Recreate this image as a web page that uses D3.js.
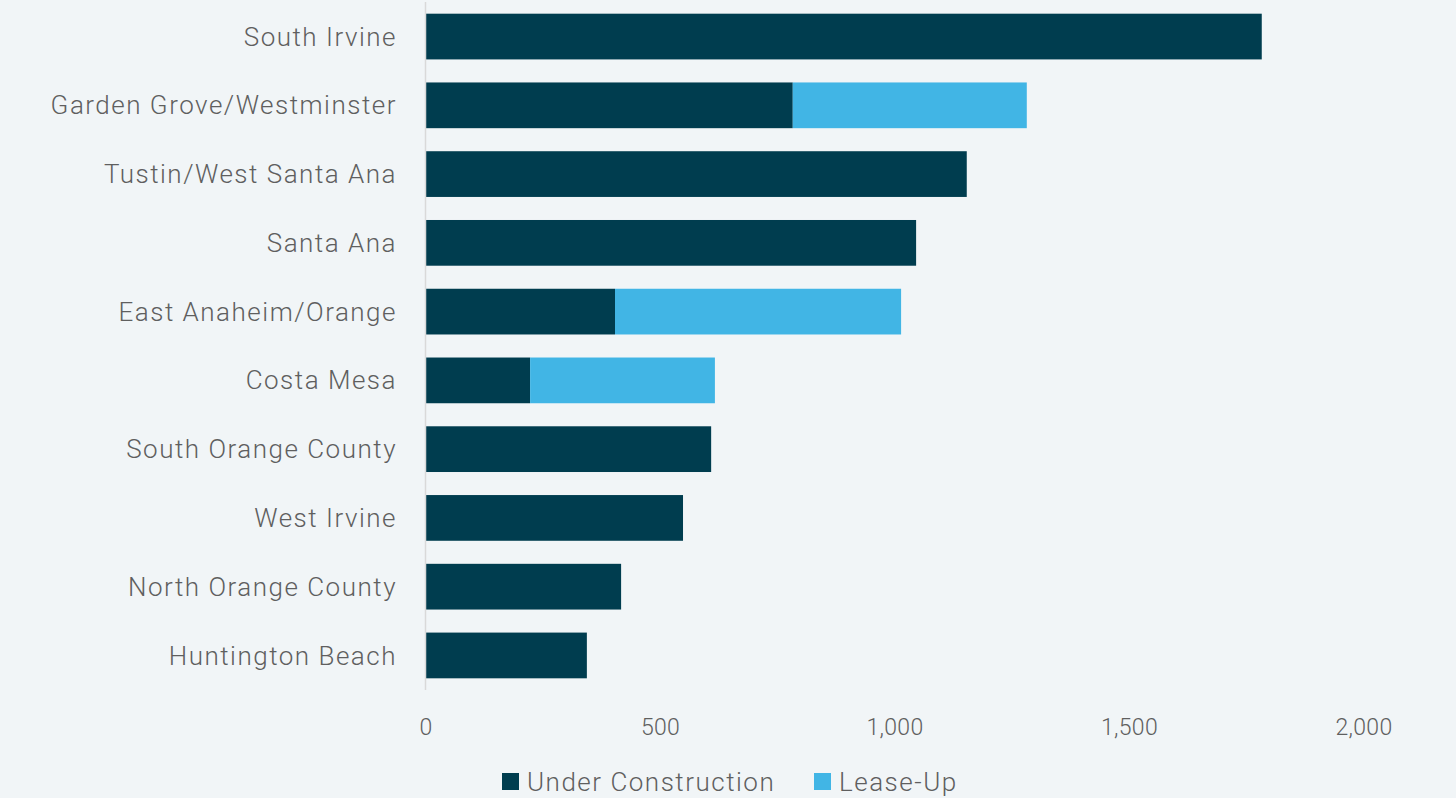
<!DOCTYPE html>
<html>
<head>
<meta charset="utf-8">
<script src="https://cdn.jsdelivr.net/npm/d3@7"></script>
<style>
  html, body { margin: 0; padding: 0; background: #f1f5f7; }
  svg { display: block; font-family: Roboto, "Noto Sans", sans-serif; font-weight: 300; }
</style>
</head>
<body>
<div id="chart"></div>
<script>
// Submarkets, top to bottom
const categories = [
  'South Irvine', 'Garden Grove/Westminster', 'Tustin/West Santa Ana', 'Santa Ana',
  'East Anaheim/Orange', 'Costa Mesa', 'South Orange County', 'West Irvine',
  'North Orange County', 'Huntington Beach'
];
const underConstruction = [1782, 782, 1153, 1045, 403, 222, 608, 548, 416, 343];
const leaseUp = [0, 499, 0, 0, 610, 394, 0, 0, 0, 0];
const seriesNames = ['Under Construction', 'Lease-Up'];
const seriesColors = ['#003d4f', '#41b5e5'];
const xTicks = [0, 500, 1000, 1500, 2000];

const width = 1456, height = 798;
const margin = { top: 2, right: 92, bottom: 108, left: 426 };

const svg = d3.select('#chart').append('svg')
  .attr('width', width)
  .attr('height', height);

svg.append('rect').attr('width', width).attr('height', height).attr('fill', '#f1f5f7');

const x = d3.scaleLinear().domain([0, 2000]).range([margin.left, width - margin.right]);
const y = d3.scaleBand().domain(categories)
  .range([margin.top, height - margin.bottom])
  .paddingInner(0.335).paddingOuter(0.17);

const rows = categories.map((c, i) => ({ cat: c, uc: underConstruction[i], lu: leaseUp[i] }));
const stacked = d3.stack().keys(['uc', 'lu'])(rows);

// bars
const layers = svg.append('g').selectAll('g')
  .data(stacked)
  .join('g')
  .attr('fill', (d, i) => seriesColors[i]);

layers.selectAll('rect')
  .data(d => d.filter(p => p[1] - p[0] > 0))
  .join('rect')
  .attr('x', d => x(d[0]))
  .attr('y', d => y(d.data.cat))
  .attr('width', d => x(d[1]) - x(d[0]))
  .attr('height', y.bandwidth());

// vertical axis line
svg.append('line')
  .attr('x1', x(0) - 0.5).attr('x2', x(0) - 0.5)
  .attr('y1', margin.top).attr('y2', height - margin.bottom)
  .attr('stroke', '#d9d9d9').attr('stroke-width', 1.5);

// category labels
svg.append('g').selectAll('text')
  .data(categories)
  .join('text')
  .attr('x', 397)
  .attr('y', d => y(d) + y.bandwidth() / 2)
  .attr('dy', '0.35em')
  .attr('text-anchor', 'end')
  .attr('font-size', 26)
  .attr('letter-spacing', 1.5)
  .attr('fill', '#5f5f5f')
  .text(d => d);

// x tick labels
const fmt = d3.format(',');
svg.append('g').selectAll('text')
  .data(xTicks)
  .join('text')
  .attr('x', d => x(d))
  .attr('y', 727)
  .attr('dy', '0.35em')
  .attr('text-anchor', 'middle')
  .attr('font-size', 23)
  .attr('letter-spacing', 0.3)
  .attr('fill', '#5f5f5f')
  .text(d => fmt(d));

// legend
const legendX = [502, 814];
const legend = svg.append('g').selectAll('g')
  .data(seriesNames)
  .join('g')
  .attr('transform', (d, i) => `translate(${legendX[i]},773)`);

legend.append('rect')
  .attr('width', 17).attr('height', 17)
  .attr('fill', (d, i) => seriesColors[i]);

legend.append('text')
  .attr('x', 25).attr('y', 8.5)
  .attr('dy', '0.35em')
  .attr('font-size', 26)
  .attr('letter-spacing', 1.5)
  .attr('fill', '#5f5f5f')
  .text(d => d);
</script>
</body>
</html>
